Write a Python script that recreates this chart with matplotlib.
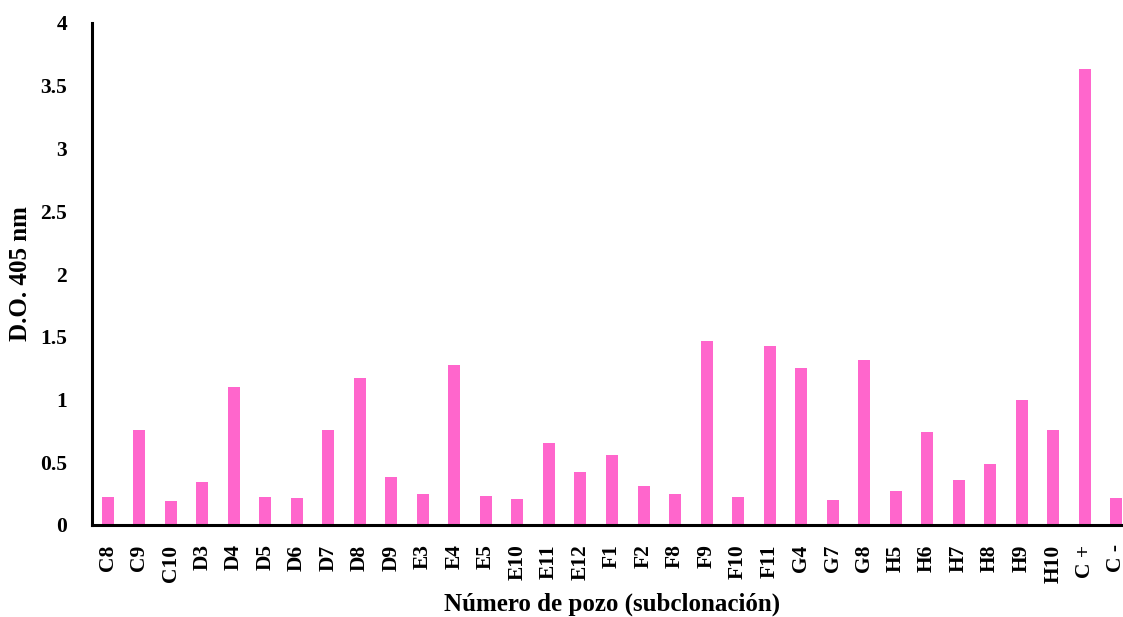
import matplotlib
matplotlib.use("Agg")
import matplotlib.pyplot as plt

# Absorbance readings per well (subcloning screen)
wells = ["C8", "C9", "C10", "D3", "D4", "D5", "D6", "D7", "D8", "D9",
         "E3", "E4", "E5", "E10", "E11", "E12", "F1", "F2", "F8", "F9",
         "F10", "F11", "G4", "G7", "G8", "H5", "H6", "H7", "H8", "H9",
         "H10", "C +", "C -"]
absorbance = [0.225, 0.76, 0.19, 0.34, 1.10, 0.225, 0.217, 0.755, 1.17, 0.38,
              0.247, 1.275, 0.229, 0.205, 0.656, 0.422, 0.555, 0.308, 0.247, 1.47,
              0.223, 1.424, 1.251, 0.202, 1.312, 0.273, 0.738, 0.359, 0.486, 1.0,
              0.755, 3.63, 0.215]
yticks = [0, 0.5, 1, 1.5, 2, 2.5, 3, 3.5, 4]
ytick_labels = ["0", "0.5", "1", "1.5", "2", "2.5", "3", "3.5", "4"]

plt.rcParams["font.family"] = ["Liberation Serif", "DejaVu Serif"]
plt.rcParams["font.weight"] = "bold"

fig = plt.figure(figsize=(11.23, 6.17), dpi=100)
ax = fig.add_axes([92 / 1123, 1 - 525 / 617, 1040 / 1123, 502 / 617])

x = range(len(wells))
ax.bar(x, absorbance, width=0.38, color="#FF66CC", edgecolor="none")

ax.set_xlim(-0.5, len(wells) - 0.5)
ax.set_ylim(0, 4)
ax.set_yticks(yticks)
ax.set_yticklabels(ytick_labels, fontsize=15.5, fontweight="bold")
ax.set_xticks(list(x))
ax.set_xticklabels(wells, rotation=90, fontsize=15.5, fontweight="bold")
ax.tick_params(axis="both", length=0)
ax.tick_params(axis="y", pad=18)
ax.tick_params(axis="x", pad=14)

for side in ("top", "right"):
    ax.spines[side].set_visible(False)
for side in ("left", "bottom"):
    ax.spines[side].set_linewidth(2.2)
    ax.spines[side].set_color("black")

ax.set_ylabel("D.O. 405 nm", fontsize=18, fontweight="bold")
ax.yaxis.set_label_coords(-(92 - 21) / 1040, 0.5)
ax.yaxis.label.set_va("center")
ax.set_xlabel("Número de pozo (subclonación)", fontsize=18, fontweight="bold")
ax.xaxis.set_label_coords((612 - 92) / 1040, -(604 - 525) / 502)
ax.xaxis.label.set_va("center")

fig.savefig("out.png", dpi=100)
